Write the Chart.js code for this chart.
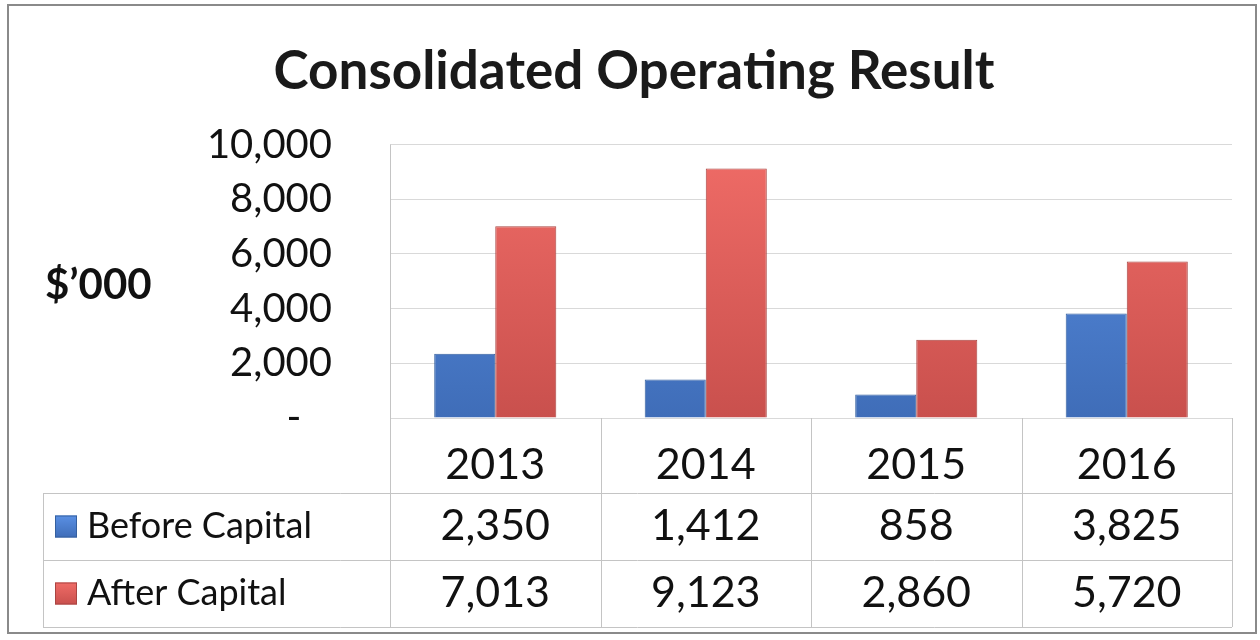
<!DOCTYPE html>
<html>
<head>
<meta charset="utf-8">
<script src="https://cdn.jsdelivr.net/npm/chart.js@4"></script>
<style>
  body { margin: 0; background: #fff; }
  #wrap { width: 1260px; height: 640px; }
</style>
</head>
<body>
<div id="wrap"><canvas id="resultChart"></canvas></div>
<script>
// chart data
const categories = ["2013", "2014", "2015", "2016"];
const seriesNames = ["Before Capital", "After Capital"];
const beforeCapital = [2350, 1412, 858, 3825];
const afterCapital = [7013, 9123, 2860, 5720];
const yMin = 0;
const yMax = 10000;
const yStep = 2000;

const FONT = "Lato";
const blueTop = "#5a90e4", blueBottom = "#3f6db8", blueEdge = "#35609f";
const redTop = "#f06c67", redBottom = "#c9504d", redEdge = "#a94542";

function barFill(top, bottom) {
  return function (ctx) {
    const area = ctx.chart.chartArea;
    if (!area) return bottom;
    const g = ctx.chart.ctx.createLinearGradient(0, area.top, 0, area.bottom);
    g.addColorStop(0, top);
    g.addColorStop(1, bottom);
    return g;
  };
}

// outer frame, y label text, and the data table under the plot
const tablePlugin = {
  id: "dataTable",
  beforeDraw(chart) {
    const c = chart.ctx;
    c.save();
    c.strokeStyle = "#8a8a8a";
    c.lineWidth = 2;
    c.strokeRect(8, 5, 1248, 628);
    c.restore();
  },
  afterDraw(chart) {
    const c = chart.ctx;
    const x = chart.scales.x;
    const area = chart.chartArea;
    const colW = x.width / categories.length;
    const rowTop = 493, rowH = 67, legendLeft = 43;
    const tableBottom = rowTop + rowH * 2;

    c.save();
    // "$'000"
    c.fillStyle = "#111";
    c.font = "bold 42px " + FONT;
    c.textAlign = "left";
    c.textBaseline = "middle";
    c.fillText("$\u2019000", 45, 285);

    // grid of table
    c.strokeStyle = "#c4c4c4";
    c.lineWidth = 1;
    c.beginPath();
    c.moveTo(area.left + 0.5, area.top);
    c.lineTo(area.left + 0.5, tableBottom);
    for (let i = 1; i <= categories.length; i++) {
      const bx = Math.round(area.left + colW * i) + 0.5;
      c.moveTo(bx, area.bottom);
      c.lineTo(bx, tableBottom);
    }
    for (let r = 0; r <= 2; r++) {
      const ly = rowTop + rowH * r + 0.5;
      c.moveTo(legendLeft, ly);
      c.lineTo(area.right, ly);
    }
    c.moveTo(legendLeft + 0.5, rowTop);
    c.lineTo(legendLeft + 0.5, tableBottom);
    c.stroke();

    // rows
    const rows = [beforeCapital, afterCapital];
    const fills = [[blueTop, blueBottom, blueEdge], [redTop, redBottom, redEdge]];
    rows.forEach(function (vals, r) {
      const cy = rowTop + rowH * r + rowH / 2;
      const g = c.createLinearGradient(0, cy - 11, 0, cy + 11);
      g.addColorStop(0, fills[r][0]);
      g.addColorStop(1, fills[r][1]);
      c.fillStyle = g;
      c.fillRect(55, cy - 11, 22, 22);
      c.strokeStyle = fills[r][2];
      c.strokeRect(55.5, cy - 10.5, 21, 21);

      c.fillStyle = "#111";
      c.font = "36px " + FONT;
      c.textAlign = "left";
      c.fillText(seriesNames[r], 87, cy);

      c.font = "43px " + FONT;
      c.textAlign = "center";
      vals.forEach(function (v, i) {
        c.fillText(v.toLocaleString("en-US"), x.getPixelForValue(i), cy);
      });
    });
    c.restore();
  },
};

new Chart(document.getElementById("resultChart"), {
  type: "bar",
  data: {
    labels: categories,
    datasets: [
      {
        label: seriesNames[0],
        data: beforeCapital,
        backgroundColor: barFill(blueTop, blueBottom),
        borderColor: blueEdge,
        borderWidth: 1,
      },
      {
        label: seriesNames[1],
        data: afterCapital,
        backgroundColor: barFill(redTop, redBottom),
        borderColor: redEdge,
        borderWidth: 1,
      },
    ],
  },
  options: {
    responsive: true,
    maintainAspectRatio: false,
    animation: false,
    layout: { padding: { left: 36, right: 28, top: 0, bottom: 0 } },
    datasets: { bar: { categoryPercentage: 0.58, barPercentage: 1.0 } },
    plugins: {
      legend: { display: false },
      tooltip: { enabled: false },
      title: {
        display: true,
        text: "Consolidated Operating Result",
        color: "#1a1a1a",
        font: { family: FONT, size: 53, weight: "bold" },
        padding: { top: 40, bottom: 41 },
      },
    },
    scales: {
      x: {
        grid: { display: false },
        border: { display: false },
        ticks: {
          color: "#111",
          font: { family: FONT, size: 43 },
          padding: 13,
        },
        afterFit: function (scale) {
          scale.height = 222;
        },
      },
      y: {
        min: yMin,
        max: yMax,
        grid: { color: "#d9d9d9", drawTicks: false },
        border: { display: false },
        ticks: {
          stepSize: yStep,
          color: "#111",
          font: { family: FONT, size: 40 },
          padding: 58,
          callback: function (v) {
            return v === 0 ? "-   " : v.toLocaleString("en-US");
          },
        },
        afterFit: function (scale) {
          scale.width = 354;
        },
      },
    },
  },
  plugins: [tablePlugin],
});
</script>
</body>
</html>
